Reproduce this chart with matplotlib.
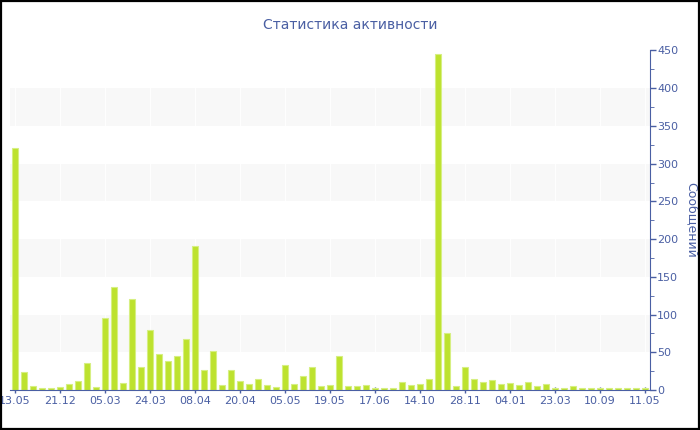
import matplotlib
matplotlib.use("Agg")
import matplotlib.pyplot as plt
from matplotlib.ticker import MultipleLocator

# Сообщения по периодам
soobshcheniya = [321, 24, 5, 3, 3, 4, 8, 12, 36, 4,
                 95, 137, 9, 121, 30, 79, 48, 38, 45, 67,
                 191, 26, 52, 7, 26, 12, 8, 15, 7, 4,
                 33, 8, 19, 30, 5, 7, 45, 5, 5, 6,
                 2, 3, 3, 11, 7, 8, 15, 446, 76, 5,
                 30, 15, 10, 13, 8, 9, 7, 11, 5, 8,
                 3, 3, 5, 3, 3, 3, 3, 3, 3, 3, 3]
tick_pos = [0, 5, 10, 15, 20, 25, 30, 35, 40, 45, 50, 55, 60, 65, 70]
tick_labels = ['13.05', '21.12', '05.03', '24.03', '08.04', '20.04', '05.05',
               '19.05', '17.06', '14.10', '28.11', '04.01', '23.03', '10.09', '11.05']

blue = '#4a5fa3'

fig = plt.figure(figsize=(7, 4.3), dpi=100)
ax = fig.add_axes([10/700, 40/430, 640/700, 339.5/430])

# серые полосы
for lo in range(50, 450, 100):
    ax.axhspan(lo, lo + 50, color='#f8f8f8', zorder=0, lw=0)
for t in tick_pos:
    ax.axvline(t, color='white', lw=0.7, zorder=0.5)

ax.bar(range(len(soobshcheniya)), soobshcheniya, width=0.72,
       color='#bde22e', edgecolor='#d6ef82', linewidth=0.8, zorder=2)

ax.set_xlim(-0.56, 70.56)
ax.set_ylim(0, 450)
ax.yaxis.tick_right()
ax.yaxis.set_label_position('right')
ax.yaxis.set_major_locator(MultipleLocator(50))
ax.yaxis.set_minor_locator(MultipleLocator(25))
ax.set_xticks(tick_pos)
ax.set_xticklabels(tick_labels)

for s in ['top', 'left']:
    ax.spines[s].set_visible(False)
ax.spines['right'].set_color(blue)
ax.spines['bottom'].set_color(blue)
ax.tick_params(axis='both', colors=blue, labelsize=8, length=4, width=1, pad=1)
ax.tick_params(axis='x', direction='inout', length=5, pad=2)
ax.tick_params(axis='y', which='minor', colors=blue, length=3)
for lab in ax.get_xticklabels() + ax.get_yticklabels():
    lab.set_color(blue)

ax.set_ylabel('Сообщений', color=blue, fontsize=9, rotation=270, labelpad=14)
fig.text(0.5, 1 - 25/430, 'Статистика активности', color=blue, fontsize=10,
         ha='center', va='center')

# рамка
fig.patches.append(plt.Rectangle((0.001, 0.002), 0.997, 0.996, transform=fig.transFigure,
                                 fill=False, edgecolor='black', lw=1.6))

fig.savefig('out.png', dpi=100)
